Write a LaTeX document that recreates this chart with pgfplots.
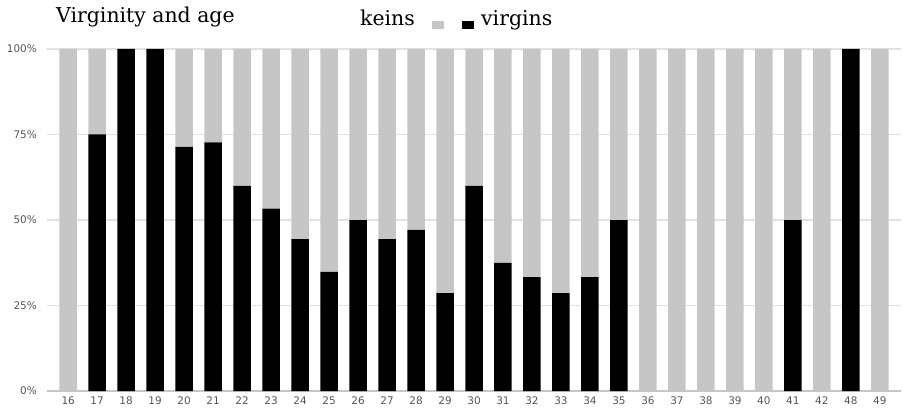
\documentclass[border=0pt]{standalone}
\usepackage{pgfplots}
\usepackage{pgfplotstable}
\pgfplotsset{compat=1.18}
\usepackage{fontspec}
\setmainfont{DejaVu Serif}
\newfontfamily\ticksans{DejaVu Sans}

\definecolor{keinsgray}{HTML}{C6C6C6}
\definecolor{gridgray}{HTML}{E2E2E2}
\definecolor{ticktext}{HTML}{555555}

% share of virgins / non-virgins (%) by age
\pgfplotstableread{
x age virgins keins
0  16 0     100
1  17 75    25
2  18 100   0
3  19 100   0
4  20 71.4  28.6
5  21 72.7  27.3
6  22 60    40
7  23 53.3  46.7
8  24 44.4  55.6
9  25 34.8  65.2
10 26 50    50
11 27 44.4  55.6
12 28 47.1  52.9
13 29 28.6  71.4
14 30 60    40
15 31 37.5  62.5
16 32 33.3  66.7
17 33 28.6  71.4
18 34 33.3  66.7
19 35 50    50
20 36 0     100
21 37 0     100
22 38 0     100
23 39 0     100
24 40 0     100
25 41 50    50
26 42 0     100
27 48 100   0
28 49 0     100
}\agedata

\begin{document}
\begin{tikzpicture}[x=1bp,y=1bp]
\useasboundingbox (0,0) rectangle (903,411);
\begin{axis}[
    at={(47bp,20bp)}, anchor=south west,
    scale only axis,
    width=854bp, height=342bp,
    ybar stacked,
    bar width=17.5bp,
    xmin=-0.73, xmax=28.73,
    ymin=0, ymax=100,
    xtick=data,
    xticklabels from table={\agedata}{age},
    ytick={0,25,50,75,100},
    yticklabels={0\%,25\%,50\%,75\%,100\%},
    ymajorgrids,
    grid style={gridgray, line width=1.2bp},
    axis x line*=bottom,
    axis y line*=left,
    y axis line style={draw=none},
    x axis line style={draw=keinsgray, line width=1.5bp},
    major tick length=0pt,
    tick label style={font=\ticksans\fontsize{10.5}{12}\selectfont, text=ticktext, inner sep=0pt},
    xticklabel style={yshift=-6bp},
    yticklabel style={xshift=-10bp},
    ]
  \addplot[fill=black, draw=none] table[x=x, y=virgins] {\agedata};
  \addplot[fill=keinsgray, draw=none] table[x=x, y=keins] {\agedata};
\end{axis}
\node[anchor=base west, font=\fontsize{20.5}{24}\selectfont, inner sep=0] at (56,388) {Virginity and age};
\node[anchor=base west, font=\fontsize{20.5}{24}\selectfont, inner sep=0] at (360,386) {keins};
\fill[keinsgray] (432,382) rectangle (444,390);
\fill[black] (462,382) rectangle (474,390);
\node[anchor=base west, font=\fontsize{20.5}{24}\selectfont, inner sep=0] at (481,386) {virgins};
\end{tikzpicture}
\end{document}
